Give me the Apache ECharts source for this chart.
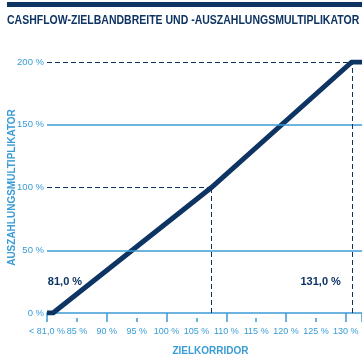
<!DOCTYPE html>
<html>
<head>
<meta charset="utf-8">
<script src="https://cdn.jsdelivr.net/npm/echarts@6/dist/echarts.min.js"></script>
<style>html,body{margin:0;padding:0;background:#fff}#c{width:362px;height:359px}</style>
</head>
<body>
<div id="c"></div>
<script>
const titleText = 'CASHFLOW-ZIELBANDBREITE UND -AUSZAHLUNGSMULTIPLIKATOR';
const xName = 'ZIELKORRIDOR';
const yName = 'AUSZAHLUNGSMULTIPLIKATOR';
const xTicks = [80, 85, 90, 95, 100, 105, 110, 115, 120, 125, 130];
const xTickLabels = ['< 81,0 %', '85 %', '90 %', '95 %', '100 %', '105 %', '110 %', '115 %', '120 %', '125 %', '130 %'];
const yTicks = [0, 50, 100, 150, 200];
const yTickLabels = ['0 %', '50 %', '100 %', '150 %', '200 %'];
const corridor = [80, 81, 107.5, 131, 132.7];
const multiplier = [0, 0, 100, 200, 200];
const annotations = ['81,0 %', '131,0 %'];

const NAVY = '#0e3463';
const LIGHT = '#3a9cd5';
const xMin = xTicks[0], xMax = corridor[corridor.length - 1];

const chart = echarts.init(document.getElementById('c'), null, {renderer: 'canvas'});
chart.setOption({
  animation: false,
  graphic: [
    {type: 'rect', shape: {x: 7, y: 2, width: 360, height: 5}, style: {fill: NAVY}},
    {type: 'text', x: 7, y: 20.5, scaleX: 0.808, style: {text: titleText, fill: NAVY, font: 'bold 13px "Liberation Sans"', textVerticalAlign: 'middle'}}
  ],
  grid: {left: 47, right: 0, top: 62, bottom: 46, containLabel: false, outerBoundsMode: 'none'},
  xAxis: [{
    type: 'value', min: xMin, max: xMax, interval: 10,
    name: xName, nameLocation: 'middle', nameGap: 33, nameMoveOverlap: false,
    nameTextStyle: {fontFamily: 'Liberation Sans', fontWeight: 'bold', fontSize: 10, color: LIGHT, padding: [0, 0, 0, 12]},
    axisLine: {show: true, lineStyle: {color: LIGHT, width: 1.5}},
    axisTick: {show: true, length: 9, lineStyle: {color: LIGHT, width: 1.5}},
    axisLabel: {show: false},
    splitLine: {show: false}
  }, {
    type: 'value', min: xMin, max: xMax, interval: 5, position: 'bottom', offset: 5,
    axisLine: {show: false},
    axisTick: {show: true, length: 4, lineStyle: {color: LIGHT, width: 1.5}},
    axisLabel: {
      show: true, margin: 9, fontFamily: 'Liberation Sans', fontSize: 9, color: LIGHT,
      showMinLabel: true, hideOverlap: false,
      formatter: v => { const i = xTicks.indexOf(v); return i >= 0 ? xTickLabels[i] : ''; }
    },
    splitLine: {show: false}
  }],
  yAxis: {
    type: 'value', min: yTicks[0], max: yTicks[yTicks.length - 1], interval: 50,
    name: yName, nameLocation: 'middle', nameGap: 30, nameRotate: 90, nameMoveOverlap: false,
    nameTextStyle: {fontFamily: 'Liberation Sans', fontWeight: 'bold', fontSize: 10, color: LIGHT},
    axisLine: {show: false}, axisTick: {show: false}, splitLine: {show: false},
    axisLabel: {
      margin: 3, fontFamily: 'Liberation Sans', fontSize: 9.5, color: LIGHT,
      formatter: v => { const i = yTicks.indexOf(v); return i >= 0 ? yTickLabels[i] : ''; }
    }
  },
  series: [{
    type: 'line', data: [], z: 1, silent: true,
    markLine: {
      symbol: 'none', silent: true, label: {show: false},
      data: [
        {yAxis: yTicks[1], lineStyle: {color: LIGHT, width: 1.5, type: 'solid'}},
        {yAxis: yTicks[3], lineStyle: {color: LIGHT, width: 1.5, type: 'solid'}},
        [{coord: [xMin, multiplier[2]], lineStyle: {color: NAVY, width: 1, type: [5, 3]}}, {coord: [corridor[2], multiplier[2]]}],
        [{coord: [corridor[2], yTicks[0]], lineStyle: {color: NAVY, width: 1, type: [5, 3]}}, {coord: [corridor[2], multiplier[2]]}],
        [{coord: [xMin, multiplier[3]], lineStyle: {color: NAVY, width: 1, type: [5, 3]}}, {coord: [corridor[3], multiplier[3]]}],
        [{coord: [corridor[3], yTicks[0]], lineStyle: {color: NAVY, width: 1, type: [5, 3]}}, {coord: [corridor[3], multiplier[3]]}]
      ]
    },
    markPoint: {
      symbol: 'circle', symbolSize: 0,
      data: [
        {coord: [corridor[1], 25], label: {show: true, formatter: annotations[0], position: 'inside', offset: [12, 0], fontFamily: 'Liberation Sans', fontWeight: 'bold', fontSize: 11, color: NAVY}},
        {coord: [corridor[3], 25], label: {show: true, formatter: annotations[1], position: 'left', distance: 11, fontFamily: 'Liberation Sans', fontWeight: 'bold', fontSize: 11, color: NAVY}}
      ]
    }
  }, {
    type: 'line', z: 3, symbol: 'none', silent: true,
    data: corridor.map((x, i) => [x, multiplier[i]]),
    lineStyle: {color: NAVY, width: 5, cap: 'butt', join: 'miter'}
  }]
});
</script>
</body>
</html>
